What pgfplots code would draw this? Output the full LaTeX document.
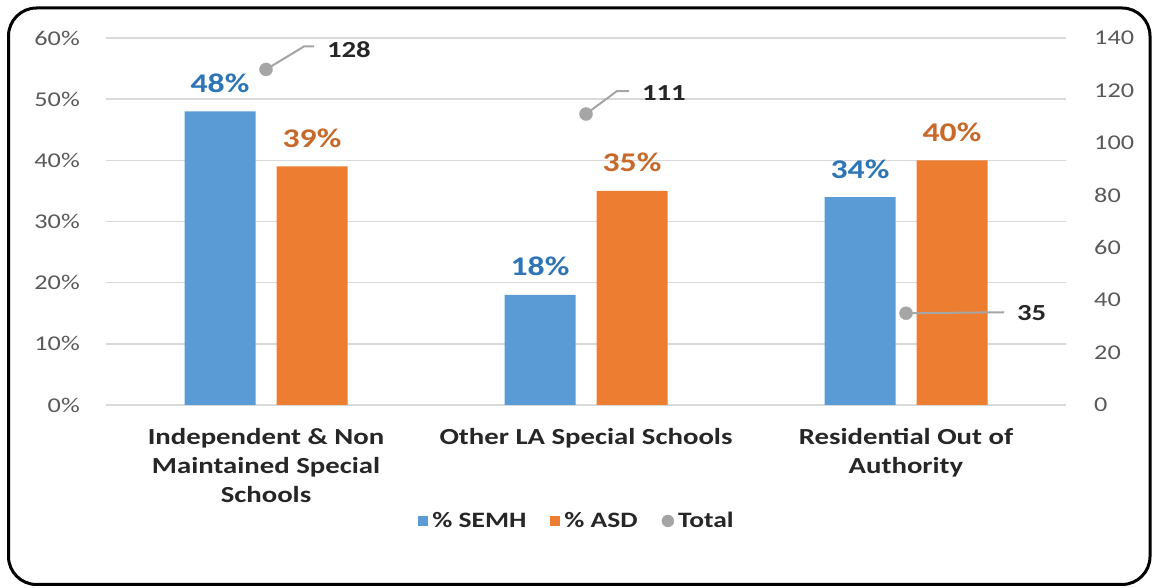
\documentclass[border=0pt]{standalone}
\usepackage{pgfplots}
\pgfplotsset{compat=1.18}
\usepackage{fontspec}
\setmainfont{Carlito}[FakeStretch=1.25]

\definecolor{semh}{HTML}{5B9BD5}
\definecolor{asd}{HTML}{ED7D31}
\definecolor{semhtxt}{HTML}{2E75B6}
\definecolor{asdtxt}{HTML}{C8692C}
\definecolor{totgray}{HTML}{A5A5A5}
\definecolor{gridc}{HTML}{D9D9D9}
\definecolor{ticktxt}{HTML}{595959}
\definecolor{darktxt}{HTML}{262626}

\newcommand{\tickfont}{\fontsize{21}{25}\selectfont}
\newcommand{\catfont}{\fontsize{23}{29}\selectfont\bfseries}
\newcommand{\valfont}{\fontsize{27}{32}\selectfont\bfseries}
\newcommand{\totfont}{\fontsize{23}{27}\selectfont\bfseries}
\newcommand{\legfont}{\fontsize{22}{26}\selectfont\bfseries}

\begin{document}
\begin{tikzpicture}
\path[use as bounding box] (0pt,0pt) rectangle (1156pt,588pt);
\draw[line width=3pt, rounded corners=28pt] (8.5pt,3.5pt) rectangle (1150pt,580pt);

\begin{axis}[
  at={(106pt,183pt)}, anchor=south west,
  width=960pt, height=367pt, scale only axis,
  xmin=-0.5, xmax=2.5, ymin=0, ymax=60,
  /pgf/number format/assume math mode=true,
  axis line style={draw=none}, tick style={draw=none},
  ymajorgrids, grid style={color=gridc, line width=1.5pt},
  ytick={0,10,...,60},
  yticklabel={\pgfmathprintnumber{\tick}\%},
  yticklabel style={font=\tickfont, text=ticktxt, anchor=east, inner sep=0pt, xshift=-26pt},
  xtick={0,1,2},
  xticklabels={{Independent \& Non\\Maintained Special\\Schools},{Other LA Special Schools},{Residential Out of\\Authority}},
  xticklabel style={font=\catfont, text=darktxt, align=center, anchor=north, inner sep=0pt, yshift=-23pt},
  point meta=y,
  nodes near coords={\pgfmathprintnumber{\pgfplotspointmeta}\%},
  every node near coord/.append style={font=\valfont, anchor=base, inner sep=0pt, yshift=19pt},
  legend columns=3,
  legend style={at={(axis description cs:0.4917,-0.316)}, anchor=center, draw=none, fill=none,
    font=\legfont, text=darktxt,
    /tikz/every even column/.append style={column sep=20pt},
    nodes={inner sep=4pt}},
]
\addplot[ybar, bar width=71pt, bar shift=-46pt, fill=semh, draw=none,
  nodes near coords style={text=semhtxt, xshift=-46pt},
  legend image code/.code={\fill[semh] (0pt,-5pt) rectangle (10pt,5pt);}]
  coordinates {(0,48) (1,18) (2,34)};
\addlegendentry{\% SEMH}
\addplot[ybar, bar width=71pt, bar shift=46pt, fill=asd, draw=none,
  nodes near coords style={text=asdtxt, xshift=46pt},
  legend image code/.code={\fill[asd] (0pt,-5pt) rectangle (10pt,5pt);}]
  coordinates {(0,39) (1,35) (2,40)};
\addlegendentry{\% ASD}
\addlegendimage{legend image code/.code={\fill[totgray] (5pt,0pt) circle (6pt);}}
\addlegendentry{Total}
\end{axis}

\begin{axis}[
  at={(106pt,183pt)}, anchor=south west,
  width=960pt, height=367pt, scale only axis,
  xmin=-0.5, xmax=2.5, ymin=0, ymax=140,
  /pgf/number format/assume math mode=true,
  axis y line*=right, axis x line=none,
  axis line style={draw=none}, tick style={draw=none},
  ytick={0,20,...,140},
  yticklabel style={font=\tickfont, text=ticktxt, anchor=west, inner sep=0pt, xshift=28pt},
  clip=false,
]
\draw[totgray, line width=2pt] (axis cs:0,128) -- ++(38pt,23pt) -- ++(10pt,0pt)
  node[anchor=west, inner sep=0pt, xshift=12pt, yshift=-3pt, font=\totfont, text=darktxt] {128};
\draw[totgray, line width=2pt] (axis cs:1,111) -- ++(31pt,23pt) -- ++(12pt,0pt)
  node[anchor=west, inner sep=0pt, xshift=12pt, yshift=-2pt, font=\totfont, text=darktxt] {111};
\draw[totgray, line width=2pt] (axis cs:2,35) -- ++(98pt,1pt)
  node[anchor=west, inner sep=0pt, xshift=12pt, yshift=-1pt, font=\totfont, text=darktxt] {35};
\addplot[only marks, mark=*, mark size=6.5pt, color=totgray]
  coordinates {(0,128) (1,111) (2,35)};
\end{axis}
\end{tikzpicture}
\end{document}
